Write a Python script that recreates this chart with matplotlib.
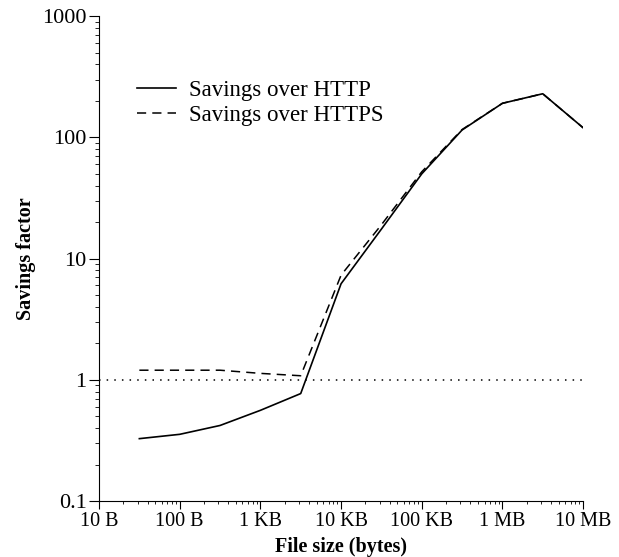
import matplotlib
matplotlib.use("Agg")
import matplotlib.pyplot as plt
from matplotlib.ticker import FixedLocator, LogLocator, NullFormatter

# File sizes (bytes) and savings factors
sizes = [31.6, 100, 316, 1000, 3160, 10000, 31600, 100000, 316000, 1000000, 3160000, 10000000]
http = [0.327, 0.355, 0.42, 0.56, 0.77, 6.2, 17.5, 50, 115, 191, 229, 120]
https = [1.2, 1.2, 1.2, 1.13, 1.08, 7.3, 19, 52, 116, 191, 229, 120]

xticks = [10, 100, 1000, 10000, 100000, 1000000, 10000000]
xlabels = ['10 B', '100 B', '1 KB', '10 KB', '100 KB', '1 MB', '10 MB']
yticks = [0.1, 1, 10, 100, 1000]
ylabels = ['0.1', '1', '10', '100', '1000']

plt.rcParams['font.family'] = ['Liberation Serif', 'DejaVu Serif']

fig = plt.figure(figsize=(6.19, 5.57), dpi=100)
ax = fig.add_axes([0.16, 0.1005, 0.782, 0.8705])

ax.plot(sizes, http, color='black', lw=1.2, label='Savings over HTTP')
ax.plot(sizes, https, color='black', lw=1.1, linestyle=(0, (6, 4)), label='Savings over HTTPS')
ax.plot([10, 10000000], [1, 1], color='black', lw=1.1, linestyle=(0, (1, 4)))

ax.set_xscale('log')
ax.set_yscale('log')
ax.set_xlim(10, 10000000)
ax.set_ylim(0.1, 1000)

ax.xaxis.set_major_locator(FixedLocator(xticks))
ax.set_xticklabels(xlabels)
ax.yaxis.set_major_locator(FixedLocator(yticks))
ax.set_yticklabels(ylabels)
ax.xaxis.set_minor_locator(LogLocator(base=10, subs=range(2, 10)))
ax.yaxis.set_minor_locator(LogLocator(base=10, subs=range(2, 10)))
ax.xaxis.set_minor_formatter(NullFormatter())
ax.yaxis.set_minor_formatter(NullFormatter())

ax.tick_params(axis='x', which='major', direction='out', length=6, labelsize=14.5, pad=2)
ax.tick_params(axis='x', which='minor', direction='out', length=2.5)
ax.tick_params(axis='y', which='major', direction='out', length=7, labelsize=16, pad=2)
ax.tick_params(axis='y', which='minor', direction='out', length=3)

for side in ['top', 'right']:
    ax.spines[side].set_visible(False)

ax.set_xlabel('File size (bytes)', fontsize=14.5, fontweight='bold', labelpad=4.5)
ax.set_ylabel('Savings factor', fontsize=14.5, fontweight='bold', labelpad=4.5)

ax.legend(loc='upper left', bbox_to_anchor=(0.035, 0.91), frameon=False, fontsize=16.5,
          handlelength=1.7, handletextpad=0.6, labelspacing=0.15)

plt.savefig('out.png', dpi=100)
